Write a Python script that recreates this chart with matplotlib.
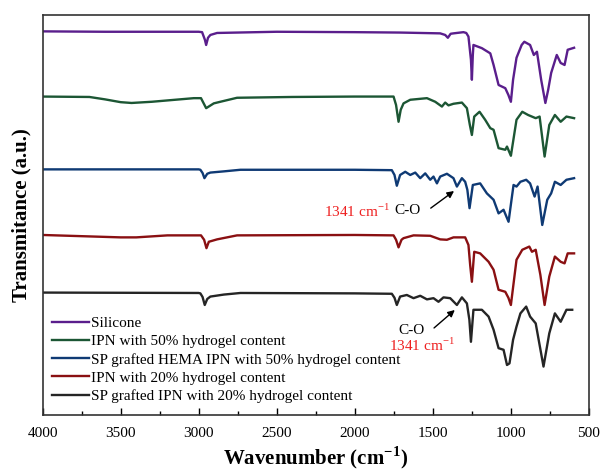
import numpy as np
import matplotlib
matplotlib.use('Agg')
import matplotlib.pyplot as plt
from matplotlib.ticker import MultipleLocator

# valores (numero de onda, transmitancia con desplazamiento)
wn_silicone = [4000, 3600, 3000, 2978, 2960, 2952, 2940, 2925, 2882, 2500, 2000, 1707,
               1452, 1420, 1403, 1385, 1367, 1303, 1285, 1271, 1255, 1249, 1243, 1239,
               1185, 1131, 1110, 1078, 1035, 1015, 999, 985, 963, 930, 913, 876, 852,
               832, 805, 778, 760, 741, 705, 680, 655, 635, 594]
t_silicone = [95.9, 95.8, 95.8, 95.7, 93.8, 92.5, 94.3, 95.0, 95.5, 95.8, 95.7, 95.6,
              95.4, 95.0, 94.3, 95.3, 95.4, 95.7, 95.5, 94.6, 88.8, 83.8, 90.0, 92.5,
              91.7, 90.4, 87.5, 82.5, 81.7, 80.0, 78.3, 83.8, 89.3, 92.5, 93.3, 92.5, 90.0,
              90.8, 83.8, 78.0, 81.3, 85.5, 90.0, 88.0, 87.5, 91.3, 91.8]

wn_ipn50 = [4000, 3700, 3600, 3500, 3430, 3300, 3181, 3031, 2985, 2952, 2903, 2861, 2754,
            2400, 2000, 1751, 1735, 1719, 1705, 1687, 1644, 1537, 1484, 1441, 1420, 1399,
            1367, 1313, 1281, 1262, 1249, 1234, 1200, 1164, 1131, 1110, 1078, 1035, 1024,
            999, 963, 926, 889, 840, 815, 783, 753, 717, 680, 643, 594]
t_ipn50 = [79.6, 79.5, 78.9, 78.2, 78.0, 78.3, 78.7, 79.2, 79.2, 76.7, 77.9, 78.3, 79.3,
           79.5, 79.6, 79.6, 77.5, 73.3, 76.3, 77.9, 78.8, 79.2, 78.3, 77.1, 78.1, 77.4,
           77.8, 78.1, 76.7, 72.5, 70.0, 74.6, 75.8, 73.8, 71.7, 71.3, 66.7, 66.3, 67.1,
           64.8, 73.8, 75.8, 75.0, 74.2, 74.6, 64.6, 72.5, 75.0, 73.3, 74.6, 74.2]

wn_hema50 = [4000, 3000, 2989, 2975, 2963, 2945, 2925, 2839, 2732, 2000, 1762, 1745, 1730,
             1709, 1676, 1644, 1612, 1580, 1548, 1516, 1495, 1473, 1452, 1409, 1367, 1345,
             1313, 1292, 1278, 1264, 1243, 1196, 1153, 1110, 1078, 1046, 1014, 995, 982,
             963, 938, 901, 876, 847, 828, 798, 766, 741, 717, 680, 643, 594]
t_hema50 = [61.4, 61.4, 61.3, 60.5, 59.2, 60.3, 60.6, 60.9, 61.3, 61.3, 61.2, 60.0, 57.3,
            60.0, 60.8, 60.0, 60.6, 59.2, 60.4, 58.8, 59.6, 57.9, 59.6, 60.3, 59.2, 57.1,
            59.2, 58.3, 56.3, 51.7, 57.5, 57.9, 55.4, 53.8, 50.4, 51.3, 48.3, 53.8, 57.5,
            57.1, 58.3, 58.8, 57.9, 54.6, 57.1, 47.5, 53.8, 55.4, 58.3, 57.5, 58.8, 59.2]

wn_ipn20 = [4000, 3500, 3400, 3200, 2985, 2965, 2950, 2935, 2882, 2754, 2000, 1751, 1735,
            1719, 1700, 1687, 1623, 1516, 1452, 1409, 1367, 1292, 1271, 1260, 1249, 1234,
            1196, 1142, 1110, 1078, 1035, 1015, 999, 963, 926, 881, 864, 840, 810, 783,
            753, 717, 680, 655, 635, 594]
t_ipn20 = [45.0, 44.4, 44.4, 44.9, 44.9, 43.8, 41.7, 43.3, 43.9, 44.9, 45.0, 44.9, 43.8,
           41.9, 43.8, 44.2, 44.9, 44.8, 43.9, 43.8, 44.4, 44.4, 42.5, 37.5, 33.3, 40.8,
           40.4, 38.3, 36.3, 31.3, 30.8, 29.3, 27.5, 38.8, 41.3, 42.1, 40.8, 41.3, 35.0,
           27.5, 34.6, 39.6, 38.3, 37.9, 40.4, 40.4]

wn_sp20 = [4000, 3000, 2989, 2975, 2961, 2945, 2925, 2839, 2732, 2000, 1762, 1745, 1730,
           1709, 1666, 1623, 1580, 1537, 1495, 1463, 1431, 1388, 1345, 1313, 1281, 1265,
           1255, 1239, 1185, 1142, 1110, 1078, 1046, 1024, 1008, 985, 963, 938, 901, 876,
           840, 815, 790, 753, 717, 680, 643, 606]
t_sp20 = [30.6, 30.5, 30.4, 29.5, 27.5, 29.0, 29.6, 30.1, 30.5, 30.4, 30.3, 29.3, 27.5,
          29.6, 30.0, 29.2, 29.8, 28.9, 29.2, 28.3, 29.4, 29.2, 27.5, 29.4, 27.9, 23.8,
          18.3, 26.3, 26.3, 24.6, 21.3, 16.7, 16.3, 12.5, 12.9, 18.8, 22.1, 25.4, 27.1,
          24.6, 22.9, 17.5, 12.1, 20.4, 25.4, 23.3, 26.3, 26.3]

labels = ['Silicone',
          'IPN with 50% hydrogel content',
          'SP grafted HEMA IPN with 50% hydrogel content',
          'IPN with 20% hydrogel content',
          'SP grafted IPN with 20% hydrogel content']
colores = ['#5a1e8c', '#1c5634', '#0f3a74', '#8a1012', '#252525']

#------------------------
def main():
    plt.rcParams['font.family'] = 'Liberation Serif'
    plt.rcParams['mathtext.fontset'] = 'custom'
    plt.rcParams['mathtext.rm'] = 'Liberation Serif'
    plt.rcParams['mathtext.bf'] = 'Liberation Serif:bold'

    fig = plt.figure(figsize=(6.02, 4.72), dpi=100)
    ax = fig.add_axes([0.0708, 0.1208, 0.9072, 0.8475])

    datos = [(wn_silicone, t_silicone), (wn_ipn50, t_ipn50), (wn_hema50, t_hema50),
             (wn_ipn20, t_ipn20), (wn_sp20, t_sp20)]
    for (x, y), lab, c in zip(datos, labels, colores):
        ax.plot(x, y, color=c, lw=1.7, label=lab)

    ax.set_xlim(4000, 500)
    ax.set_ylim(0, 100)
    ax.xaxis.set_major_locator(MultipleLocator(500))
    ax.xaxis.set_minor_locator(MultipleLocator(250))
    ax.tick_params(axis='x', which='both', direction='in', labelsize=11, pad=9)
    ax.tick_params(axis='x', which='major', length=5, width=1)
    ax.tick_params(axis='x', which='minor', length=3, width=1)
    ax.set_yticks([])
    for s in ax.spines.values():
        s.set_linewidth(1.2)
        s.set_color('#333333')

    ax.set_xlabel(r'Wavenumber (cm$^{\mathbf{-1}}$)', fontsize=15, fontweight='bold', labelpad=3)
    ax.set_ylabel('Transmitance (a.u.)', fontsize=15, fontweight='bold', labelpad=8)

    # anotaciones C-O 1341 cm-1
    ax.text(1775, 51.0, r'1341 cm$^{-1}$', color='#ee2020', fontsize=11, ha='right', va='center')
    ax.text(1745, 51.0, 'C-O', color='k', fontsize=11, ha='left', va='center')
    ax.annotate('', xy=(1349, 56.4), xytext=(1527, 51.3),
                arrowprops=dict(arrowstyle='-|>', color='k', lw=1.0, mutation_scale=10))

    ax.text(1638, 21.1, 'C-O', color='k', fontsize=11, ha='center', va='center')
    ax.text(1571, 17.3, r'1341 cm$^{-1}$', color='#ee2020', fontsize=11, ha='center', va='center')
    ax.annotate('', xy=(1345, 26.7), xytext=(1505, 21.3),
                arrowprops=dict(arrowstyle='-|>', color='k', lw=1.0, mutation_scale=10))

    ax.legend(loc='upper left', bbox_to_anchor=(0.018, 0.247), frameon=False,
              fontsize=11, handlelength=2.4, handletextpad=0.15, labelspacing=0.3,
              borderpad=0, borderaxespad=0)

    fig.savefig('out.png', dpi=100)

if __name__ == "__main__":
    main()
